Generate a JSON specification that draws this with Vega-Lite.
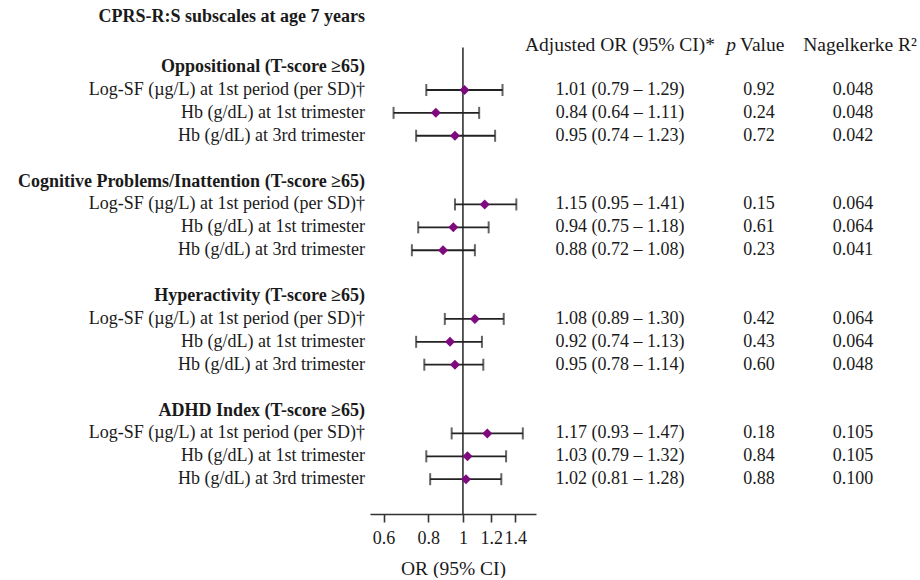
{
  "$schema": "https://vega.github.io/schema/vega-lite/v6.json",
  "padding": 0,
  "background": "white",
  "spacing": 0,
  "bounds": "flush",
  "datasets": {
    "groups": [
      {"row": 0, "group": "Oppositional (T-score ≥65)"},
      {"row": 5, "group": "Cognitive Problems/Inattention (T-score ≥65)"},
      {"row": 10, "group": "Hyperactivity (T-score ≥65)"},
      {"row": 15, "group": "ADHD Index (T-score ≥65)"}
    ],
    "est": [
      {"row": 1, "label": "Log-SF (µg/L) at 1st period (per SD)†", "or": 1.01, "lo": 0.79, "hi": 1.29, "ci": "1.01 (0.79 – 1.29)", "p": "0.92", "r2": "0.048"},
      {"row": 2, "label": "Hb (g/dL) at 1st trimester", "or": 0.84, "lo": 0.64, "hi": 1.11, "ci": "0.84 (0.64 – 1.11)", "p": "0.24", "r2": "0.048"},
      {"row": 3, "label": "Hb (g/dL) at 3rd trimester", "or": 0.95, "lo": 0.74, "hi": 1.23, "ci": "0.95 (0.74 – 1.23)", "p": "0.72", "r2": "0.042"},
      {"row": 6, "label": "Log-SF (µg/L) at 1st period (per SD)†", "or": 1.15, "lo": 0.95, "hi": 1.41, "ci": "1.15 (0.95 – 1.41)", "p": "0.15", "r2": "0.064"},
      {"row": 7, "label": "Hb (g/dL) at 1st trimester", "or": 0.94, "lo": 0.75, "hi": 1.18, "ci": "0.94 (0.75 – 1.18)", "p": "0.61", "r2": "0.064"},
      {"row": 8, "label": "Hb (g/dL) at 3rd trimester", "or": 0.88, "lo": 0.72, "hi": 1.08, "ci": "0.88 (0.72 – 1.08)", "p": "0.23", "r2": "0.041"},
      {"row": 11, "label": "Log-SF (µg/L) at 1st period (per SD)†", "or": 1.08, "lo": 0.89, "hi": 1.30, "ci": "1.08 (0.89 – 1.30)", "p": "0.42", "r2": "0.064"},
      {"row": 12, "label": "Hb (g/dL) at 1st trimester", "or": 0.92, "lo": 0.74, "hi": 1.13, "ci": "0.92 (0.74 – 1.13)", "p": "0.43", "r2": "0.064"},
      {"row": 13, "label": "Hb (g/dL) at 3rd trimester", "or": 0.95, "lo": 0.78, "hi": 1.14, "ci": "0.95 (0.78 – 1.14)", "p": "0.60", "r2": "0.048"},
      {"row": 16, "label": "Log-SF (µg/L) at 1st period (per SD)†", "or": 1.17, "lo": 0.93, "hi": 1.47, "ci": "1.17 (0.93 – 1.47)", "p": "0.18", "r2": "0.105"},
      {"row": 17, "label": "Hb (g/dL) at 1st trimester", "or": 1.03, "lo": 0.79, "hi": 1.32, "ci": "1.03 (0.79 – 1.32)", "p": "0.84", "r2": "0.105"},
      {"row": 18, "label": "Hb (g/dL) at 3rd trimester", "or": 1.02, "lo": 0.81, "hi": 1.28, "ci": "1.02 (0.81 – 1.28)", "p": "0.88", "r2": "0.100"}
    ]
  },
  "resolve": {"scale": {"x": "independent", "y": "independent"}},
  "hconcat": [
    {
      "width": 370,
      "height": 514,
      "layer": [
        {
          "data": {"values": [{"t": "CPRS-R:S subscales at age 7 years"}]},
          "mark": {"type": "text", "align": "right", "baseline": "middle", "fontWeight": "bold", "dx": -5},
          "encoding": {
            "x": {"datum": 1, "type": "quantitative", "scale": {"domain": [0, 1]}, "axis": null},
            "y": {"datum": -2.18, "type": "quantitative", "scale": {"domain": [-2.93, 19.52], "reverse": true, "nice": false, "zero": false}, "axis": null},
            "text": {"field": "t"}
          }
        },
        {
          "data": {"name": "groups"},
          "mark": {"type": "text", "align": "right", "baseline": "middle", "fontWeight": "bold", "dx": -5},
          "encoding": {
            "x": {"datum": 1, "type": "quantitative", "scale": {"domain": [0, 1]}, "axis": null},
            "y": {"field": "row", "type": "quantitative", "scale": {"domain": [-2.93, 19.52], "reverse": true, "nice": false, "zero": false}, "axis": null},
            "text": {"field": "group"}
          }
        },
        {
          "data": {"name": "est"},
          "mark": {"type": "text", "align": "right", "baseline": "middle", "dx": -5},
          "encoding": {
            "x": {"datum": 1, "type": "quantitative", "scale": {"domain": [0, 1]}, "axis": null},
            "y": {"field": "row", "type": "quantitative", "scale": {"domain": [-2.93, 19.52], "reverse": true, "nice": false, "zero": false}, "axis": null},
            "text": {"field": "label"}
          }
        }
      ]
    },
    {
      "width": 166,
      "height": 514,
      "layer": [
        {
          "data": {"values": [{}]},
          "mark": {"type": "rule", "color": "#333333", "strokeWidth": 1.6},
          "encoding": {
            "x": {"datum": 1, "type": "quantitative", "scale": {"type": "log", "domain": [0.55, 1.6], "nice": false}},
            "y": {"datum": -0.85, "type": "quantitative", "scale": {"domain": [-2.93, 19.52], "reverse": true, "nice": false, "zero": false}, "axis": null},
            "y2": {"datum": 19.52}
          }
        },
        {
          "data": {"name": "est"},
          "mark": {"type": "rule", "color": "#222222", "strokeWidth": 1.8},
          "encoding": {
            "x": {"field": "lo", "type": "quantitative", "scale": {"type": "log", "domain": [0.55, 1.6], "nice": false},
              "axis": {"values": [0.6, 0.8, 1, 1.2, 1.4], "format": "~g", "title": "OR (95% CI)", "grid": false}},
            "x2": {"field": "hi"},
            "y": {"field": "row", "type": "quantitative", "scale": {"domain": [-2.93, 19.52], "reverse": true, "nice": false, "zero": false}, "axis": null}
          }
        },
        {
          "data": {"name": "est"},
          "mark": {"type": "tick", "orient": "vertical", "color": "#222222", "size": 12, "thickness": 2},
          "encoding": {
            "x": {"field": "lo", "type": "quantitative", "scale": {"type": "log", "domain": [0.55, 1.6], "nice": false}},
            "y": {"field": "row", "type": "quantitative", "scale": {"domain": [-2.93, 19.52], "reverse": true, "nice": false, "zero": false}, "axis": null}
          }
        },
        {
          "data": {"name": "est"},
          "mark": {"type": "tick", "orient": "vertical", "color": "#222222", "size": 12, "thickness": 2},
          "encoding": {
            "x": {"field": "hi", "type": "quantitative", "scale": {"type": "log", "domain": [0.55, 1.6], "nice": false}},
            "y": {"field": "row", "type": "quantitative", "scale": {"domain": [-2.93, 19.52], "reverse": true, "nice": false, "zero": false}, "axis": null}
          }
        },
        {
          "data": {"name": "est"},
          "mark": {"type": "point", "shape": "diamond", "filled": true, "color": "#7f0a80", "opacity": 1, "size": 100},
          "encoding": {
            "x": {"field": "or", "type": "quantitative", "scale": {"type": "log", "domain": [0.55, 1.6], "nice": false}},
            "y": {"field": "row", "type": "quantitative", "scale": {"domain": [-2.93, 19.52], "reverse": true, "nice": false, "zero": false}, "axis": null}
          }
        }
      ]
    },
    {
      "width": 168,
      "height": 514,
      "layer": [
        {
          "data": {"values": [{"t": "Adjusted OR (95% CI)*"}]},
          "mark": {"type": "text", "baseline": "middle", "fontSize": 19.5},
          "encoding": {
            "y": {"datum": -0.96, "type": "quantitative", "scale": {"domain": [-2.93, 19.52], "reverse": true, "nice": false, "zero": false}, "axis": null},
            "text": {"field": "t"}
          }
        },
        {
          "data": {"name": "est"},
          "mark": {"type": "text", "baseline": "middle"},
          "encoding": {
            "y": {"field": "row", "type": "quantitative", "scale": {"domain": [-2.93, 19.52], "reverse": true, "nice": false, "zero": false}, "axis": null},
            "text": {"field": "ci"}
          }
        }
      ]
    },
    {
      "width": 110,
      "height": 514,
      "layer": [
        {
          "data": {"values": [{"t": "p"}]},
          "mark": {"type": "text", "baseline": "middle", "align": "right", "fontStyle": "italic", "fontSize": 19.5, "dx": -23},
          "encoding": {
            "y": {"datum": -0.96, "type": "quantitative", "scale": {"domain": [-2.93, 19.52], "reverse": true, "nice": false, "zero": false}, "axis": null},
            "text": {"field": "t"}
          }
        },
        {
          "data": {"values": [{"t": "Value"}]},
          "mark": {"type": "text", "baseline": "middle", "align": "left", "fontSize": 19.5, "dx": -19},
          "encoding": {
            "y": {"datum": -0.96, "type": "quantitative", "scale": {"domain": [-2.93, 19.52], "reverse": true, "nice": false, "zero": false}, "axis": null},
            "text": {"field": "t"}
          }
        },
        {
          "data": {"name": "est"},
          "mark": {"type": "text", "baseline": "middle"},
          "encoding": {
            "y": {"field": "row", "type": "quantitative", "scale": {"domain": [-2.93, 19.52], "reverse": true, "nice": false, "zero": false}, "axis": null},
            "text": {"field": "p"}
          }
        }
      ]
    },
    {
      "width": 78,
      "height": 514,
      "layer": [
        {
          "data": {"values": [{"t": "Nagelkerke R²"}]},
          "mark": {"type": "text", "baseline": "middle", "fontSize": 19.5, "dx": 7},
          "encoding": {
            "y": {"datum": -0.96, "type": "quantitative", "scale": {"domain": [-2.93, 19.52], "reverse": true, "nice": false, "zero": false}, "axis": null},
            "text": {"field": "t"}
          }
        },
        {
          "data": {"name": "est"},
          "mark": {"type": "text", "baseline": "middle"},
          "encoding": {
            "y": {"field": "row", "type": "quantitative", "scale": {"domain": [-2.93, 19.52], "reverse": true, "nice": false, "zero": false}, "axis": null},
            "text": {"field": "r2"}
          }
        }
      ]
    }
  ],
  "config": {
    "view": {"stroke": null},
    "text": {"font": "Liberation Serif", "fontSize": 18, "color": "#1a1a1a"},
    "axis": {
      "labelFont": "Liberation Serif", "labelFontSize": 18, "labelColor": "#1a1a1a",
      "titleFont": "Liberation Serif", "titleFontSize": 19.5, "titleFontWeight": "normal", "titleColor": "#1a1a1a",
      "domainColor": "#333333", "domainWidth": 1.6, "tickColor": "#333333", "tickWidth": 1.6, "tickSize": 8,
      "labelPadding": 7, "titlePadding": 12, "labelFlush": false, "labelOverlap": false
    }
  }
}
